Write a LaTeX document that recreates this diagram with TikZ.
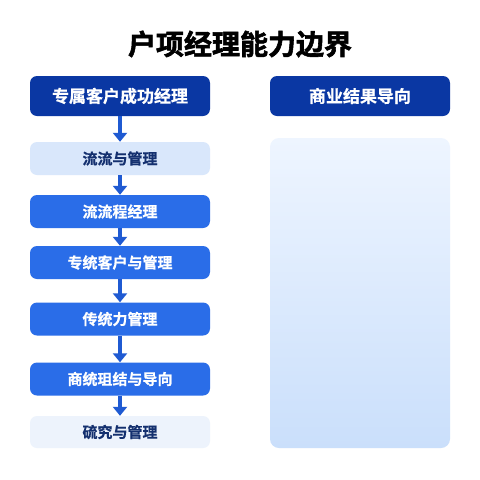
\documentclass[tikz,border=0pt]{standalone}
\usepackage{fontspec}
\newfontfamily\cjk{Noto Sans CJK SC}[BoldFont={Noto Sans CJK SC Bold},BoldFeatures={FakeBold=0.6}]
\newfontfamily\cjkheavy{Noto Sans CJK SC Bold}[FakeBold=2]
\usetikzlibrary{arrows.meta}
\definecolor{navy}{HTML}{0A37A3}
\definecolor{midblue}{HTML}{2A6DE8}
\definecolor{arrowblue}{HTML}{1F5AD2}
\definecolor{pale}{HTML}{D9E7FB}
\definecolor{paler}{HTML}{EDF3FC}
\definecolor{darktext}{HTML}{14306F}
\definecolor{gradtop}{HTML}{EEF5FF}
\definecolor{gradbot}{HTML}{CADFFB}
\tikzset{
  box/.style={rounded corners=7pt, minimum width=180pt, inner sep=0pt, font=\cjk\bfseries\fontsize{15pt}{15pt}\selectfont},
  headbox/.style={box, fill=navy, text=white, minimum height=40pt, font=\cjk\bfseries\fontsize{17pt}{17pt}\selectfont},
  darkbox/.style={box, fill=midblue, text=white, minimum height=33pt},
  lightbox/.style={box, fill=pale, text=darktext, minimum height=33pt},
  lighterbox/.style={box, fill=paler, text=darktext, minimum height=32pt},
  flow/.style={arrowblue, line width=3.5pt, -{Triangle[width=14pt,length=9pt]}, shorten >=0pt}
}
\begin{document}
\begin{tikzpicture}[x=1pt,y=-1pt]
\useasboundingbox (0,0) rectangle (480,480);
\fill[white] (0,0) rectangle (480,480);
\node[font=\cjkheavy\fontsize{28pt}{28pt}\selectfont, text=black] (title) at (240,44) {户项经理能力边界};
\node[headbox] (h1) at (120,96) {专属客户成功经理};
\node[headbox] (h2) at (360,96) {商业结果导向};
\node[lightbox] (b1) at (120,158.5) {流流与管理};
\node[darkbox] (b2) at (120,211.5) {流流程经理};
\node[darkbox] (b3) at (120,262.5) {专统客户与管理};
\node[darkbox] (b4) at (120,319) {传统力管理};
\node[darkbox] (b5) at (120,379) {商统珇结与导向};
\node[lighterbox] (b6) at (120,432) {硫究与管理};
\shade[top color=gradtop, bottom color=gradbot, rounded corners=9pt] (270,138) rectangle (450,448);
\draw[flow] (h1.south) -- (b1.north);
\draw[flow] (b1.south) -- (b2.north);
\draw[flow] (b2.south) -- (b3.north);
\draw[flow] (b3.south) -- (b4.north);
\draw[flow] (b4.south) -- (b5.north);
\draw[flow] (b5.south) -- (b6.north);
\end{tikzpicture}
\end{document}
